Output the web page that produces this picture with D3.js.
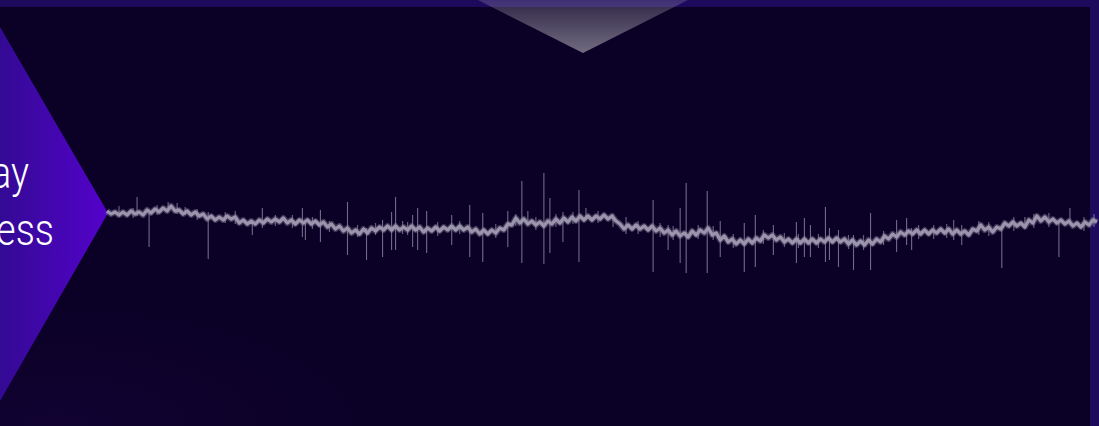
<!DOCTYPE html>
<html>
<head>
<meta charset="utf-8">
<script src="https://cdn.jsdelivr.net/npm/d3@7"></script>
<style>
  html, body { margin: 0; padding: 0; background: #0b0126; overflow: hidden; }
  svg { display: block; }
</style>
</head>
<body>
<svg id="chart" width="1099" height="426"></svg>
<script>
// Signal trace, one sample every 4 ms (amplitude in µV, positive = up)
const sampleStep = 4;
const trace = [
  9, 6, 8, 5, 8, 5, 9, 6, 8, 5,
  10, 7, 11, 8, 12, 9, 14, 9, 10, 6,
  9, 5, 8, 4, 6, 1, 4, 0, 3, 0,
  4, 1, 3, -3, 0, -4, -1, -4, 0, -3,
  1, -2, 1, -2, 2, -3, 0, -4, 0, -3,
  0, -4, -1, -5, -2, -7, -4, -9, -6, -11,
  -8, -13, -10, -14, -9, -13, -8, -11, -7, -10,
  -6, -10, -6, -10, -7, -10, -6, -10, -7, -12,
  -8, -11, -7, -11, -7, -10, -6, -10, -6, -10,
  -7, -12, -9, -14, -10, -14, -10, -13, -8, -10,
  -4, -5, 2, -3, 1, -4, -1, -5, -2, -6,
  -1, -4, 1, -3, 2, -2, 3, -1, 4, 0,
  4, 0, 4, 1, 5, 1, 4, -1, -4, -9,
  -5, -9, -5, -9, -6, -10, -6, -11, -8, -13,
  -10, -15, -11, -16, -13, -17, -11, -15, -10, -13,
  -8, -15, -13, -20, -16, -22, -19, -24, -20, -24,
  -19, -23, -18, -21, -15, -18, -15, -20, -17, -22,
  -19, -23, -19, -23, -19, -23, -19, -23, -19, -22,
  -18, -22, -18, -22, -19, -24, -20, -25, -21, -25,
  -20, -24, -19, -22, -16, -19, -14, -17, -12, -15,
  -11, -14, -10, -14, -10, -14, -10, -13, -9, -13,
  -9, -14, -10, -14, -11, -15, -9, -11, -5, -10,
  -7, -12, -7, -9, -3, -6, -2, -6, -3, -7,
  0, -3, 4, -1, 3, -2, 1, -3, 0, -4,
  -1, -6, -3, -7, -2, -5, 0, -2
];

// Spike events: time (ms), peak high, peak low (µV)
const spikeTimes = [30, 42, 61, 78, 101, 145, 155, 195, 198, 213, 240, 259, 275, 284, 288, 305, 310, 319, 344, 362, 375, 400, 414, 420, 436, 442, 455, 471, 478, 518, 545, 560, 572, 578, 599, 612, 636, 647, 665, 688, 696, 702, 717, 721, 730, 745, 762, 788, 798, 803, 845, 853, 893, 916, 950, 961];
const spikeHigh  = [23, 8, 18, 13, 8, -1, 12, 12, -2, 10, 18, -8, 0, 8, 23, 5, 12, 9, 5, 15, 7, 9, 39, 9, 47, 22, 8, 30, 12, 3, 20, -5, 12, 37, 29, -1, -3, 5, -5, -2, 2, -5, 13, -8, -10, -15, 7, 0, 2, -8, 0, -5, -5, 3, -2, 12];
const spikeLow   = [4, -27, 8, 5, -39, -15, -8, -17, -20, -22, -35, -40, -37, -30, -30, -27, -30, -33, -25, -37, -42, -27, -43, -5, -44, -33, -22, -42, 0, -14, -52, -30, -43, -53, -53, -37, -52, -47, -35, -43, -37, -37, -42, -40, -47, -50, -50, -32, -25, -30, -20, -25, -48, -8, -37, -5];

// Small noise bursts riding on the trace: time (ms), high, low (µV)
const burstTimes = [12, 26, 50, 70, 90, 118, 128, 168, 185, 205, 222, 250, 268, 295, 300, 330, 352, 388, 408, 428, 448, 465, 490, 505, 530, 552, 565, 590, 605, 625, 655, 676, 690, 710, 740, 755, 775, 810, 825, 838, 870, 880, 905, 925, 940, 975, 985];
const burstHigh  = [14, 12, 15, 17, 11, 8, 9, 5, 5, 3, -1, -5, -3, -1, -2, -2, -1, -4, 6, 3, 6, 8, 9, 6, -1, -3, -6, -5, -6, -14, -10, -13, -14, -14, -15, -15, -11, -5, -5, -4, -1, -2, 3, 6, 7, 3, 6];
const burstLow   = [3, 2, 5, 6, 0, -3, -4, -6, -8, -9, -12, -17, -15, -14, -15, -16, -14, -18, -6, -10, -7, -4, -3, -7, -14, -17, -20, -19, -20, -28, -24, -27, -28, -28, -29, -30, -25, -19, -19, -18, -15, -16, -11, -8, -7, -11, -7];

// Side panel caption lines
const captionLines = ["ay", "ess"];

const W = 1099, H = 426;
const svg = d3.select("#chart");
const defs = svg.append("defs");

// Panel gradient for the left chevron
const chevGrad = defs.append("linearGradient").attr("id", "chevGrad")
  .attr("x1", "0").attr("y1", "0").attr("x2", "1").attr("y2", "0");
chevGrad.append("stop").attr("offset", "0").attr("stop-color", "#330a94");
chevGrad.append("stop").attr("offset", "1").attr("stop-color", "#5402cb");

// Downward pointer at the top edge
const tipGrad = defs.append("linearGradient").attr("id", "tipGrad")
  .attr("x1", "0").attr("y1", "0").attr("x2", "0").attr("y2", "1");
tipGrad.append("stop").attr("offset", "0").attr("stop-color", "#ffffff").attr("stop-opacity", 0.15);
tipGrad.append("stop").attr("offset", "1").attr("stop-color", "#ffffff").attr("stop-opacity", 0.42);

// Faint tint in the lower-left corner of the backdrop
const glow = defs.append("radialGradient").attr("id", "glow")
  .attr("cx", "0.05").attr("cy", "1").attr("r", "0.3");
glow.append("stop").attr("offset", "0").attr("stop-color", "#24065a").attr("stop-opacity", 0.22);
glow.append("stop").attr("offset", "1").attr("stop-color", "#24065a").attr("stop-opacity", 0);

// Backdrop
svg.append("rect").attr("width", W).attr("height", H).attr("fill", "#0b0126");
svg.append("rect").attr("width", W).attr("height", H).attr("fill", "url(#glow)");

// Frame bands (top and right)
svg.append("rect").attr("x", 0).attr("y", 0).attr("width", W).attr("height", 7).attr("fill", "#1d0a5c");
svg.append("rect").attr("x", 1090).attr("y", 0).attr("width", 9).attr("height", H).attr("fill", "#1d0a5c");

// Top pointer
svg.append("path")
  .attr("d", "M478,0 L688,0 L583,53 Z")
  .attr("fill", "url(#tipGrad)");

// Left chevron panel
svg.append("path")
  .attr("d", "M0,27 L108,213 L0,401 Z")
  .attr("fill", "url(#chevGrad)");

// Caption text, right-aligned against the panel edge
const captionEnds = [29, 54];
const captionBaselines = [188, 245];
captionLines.forEach((txt, i) => {
  svg.append("g")
    .attr("transform", `translate(${captionEnds[i]},${captionBaselines[i]}) scale(0.86,1)`)
    .append("text")
    .attr("text-anchor", "end")
    .attr("font-family", "Roboto, 'Open Sans', sans-serif")
    .attr("font-weight", 300)
    .attr("font-size", 44)
    .attr("fill", "#ffffff")
    .text(txt);
});

// Scales
const x = d3.scaleLinear().domain([0, (trace.length - 1) * sampleStep]).range([107, 1097]);
const y = d3.scaleLinear().domain([-50, 50]).range([270, 170]);

const wave = svg.append("g");

// Spikes as thin vertical strokes
const spikes = spikeTimes.map((t, i) => ({ t, hi: spikeHigh[i], lo: spikeLow[i] }));
wave.selectAll("line.spike").data(spikes).join("line")
  .attr("class", "spike")
  .attr("x1", d => x(d.t)).attr("x2", d => x(d.t))
  .attr("y1", d => y(d.hi)).attr("y2", d => y(d.lo))
  .attr("stroke", "#9d97b0")
  .attr("stroke-opacity", 0.7)
  .attr("stroke-width", 1.1);

// Short noise bursts
const bursts = burstTimes.map((t, i) => ({ t, hi: burstHigh[i], lo: burstLow[i] }));
wave.selectAll("line.burst").data(bursts).join("line")
  .attr("class", "burst")
  .attr("x1", d => x(d.t)).attr("x2", d => x(d.t))
  .attr("y1", d => y(d.hi)).attr("y2", d => y(d.lo))
  .attr("stroke", "#a29cb4")
  .attr("stroke-opacity", 0.6)
  .attr("stroke-width", 1.2);

// Main trace: soft halo plus solid core
const pts = trace.map((v, i) => [i * sampleStep, v]);
const line = d3.line().x(d => x(d[0])).y(d => y(d[1]));
wave.append("path")
  .datum(pts)
  .attr("d", line)
  .attr("fill", "none")
  .attr("stroke", "#9d97b0")
  .attr("stroke-opacity", 0.35)
  .attr("stroke-width", 6)
  .attr("stroke-linejoin", "round");
wave.append("path")
  .datum(pts)
  .attr("d", line)
  .attr("fill", "none")
  .attr("stroke", "#9a94ad")
  .attr("stroke-width", 3.4)
  .attr("stroke-linejoin", "round");
</script>
</body>
</html>
